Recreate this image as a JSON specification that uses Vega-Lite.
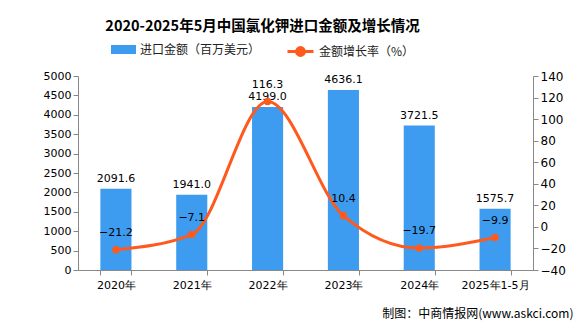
{
  "$schema": "https://vega.github.io/schema/vega-lite/v6.json",
  "width": 455,
  "height": 194,
  "autosize": {"type": "none"},
  "padding": {"left": 78, "top": 76, "right": 43, "bottom": 57},
  "background": "white",
  "title": {
    "text": "2020-2025年5月中国氯化钾进口金额及增长情况",
    "font": "Noto Sans CJK SC",
    "fontSize": 14.5,
    "fontWeight": "bold",
    "color": "#000000",
    "anchor": "middle",
    "dx": -43,
    "offset": 3
  },
  "config": {
    "view": {"stroke": null},
    "axis": {
      "grid": false,
      "domainColor": "#888888",
      "tickColor": "#888888",
      "tickSize": 5,
      "labelColor": "#000000",
      "labelFont": "DejaVu Sans",
      "labelFontSize": 11
    },
    "legend": {
      "labelFont": "Noto Sans CJK SC",
      "labelFontSize": 12,
      "labelColor": "#222222",
      "title": null
    },
    "text": {"font": "DejaVu Sans", "fontSize": 11, "color": "#000000"}
  },
  "data": {
    "values": [
      {"year": "2020年", "amount": 2091.6, "growth": -21.2},
      {"year": "2021年", "amount": 1941.0, "growth": -7.1},
      {"year": "2022年", "amount": 4199.0, "growth": 116.3},
      {"year": "2023年", "amount": 4636.1, "growth": 10.4},
      {"year": "2024年", "amount": 3721.5, "growth": -19.7},
      {"year": "2025年1-5月", "amount": 1575.7, "growth": -9.9}
    ]
  },
  "encoding": {
    "x": {
      "field": "year",
      "type": "nominal",
      "sort": null,
      "scale": {"paddingInner": 0.59, "paddingOuter": 0.295},
      "axis": {
        "labelAngle": 0,
        "tickBand": "extent",
        "labelPadding": 4,
        "title": "制图：中商情报网(www.askci.com)",
        "titleFont": "Noto Sans CJK SC",
        "titleFontSize": 12,
        "titleFontWeight": "normal",
        "titleColor": "#000000",
        "titleAnchor": "end",
        "titleAlign": "right",
        "titleBaseline": "middle",
        "titleX": 495,
        "titleY": 43
      }
    }
  },
  "layer": [
    {
      "encoding": {
        "y": {
          "field": "amount",
          "type": "quantitative",
          "scale": {"domain": [0, 5000], "nice": false},
          "axis": {"orient": "left", "values": [0, 500, 1000, 1500, 2000, 2500, 3000, 3500, 4000, 4500, 5000], "format": "d", "title": null}
        }
      },
      "layer": [
        {
          "mark": {"type": "bar"},
          "encoding": {
            "fill": {
              "datum": "进口金额（百万美元）",
              "scale": {"range": ["#3d9cf0"]},
              "legend": {
                "orient": "none",
                "legendX": 33,
                "legendY": -39,
                "symbolType": "M-1,-0.36H1V0.36H-1Z",
                "symbolSize": 625,
                "symbolStrokeWidth": 0
              }
            }
          }
        },
        {
          "mark": {"type": "text", "baseline": "bottom", "dy": -5},
          "encoding": {"text": {"field": "amount", "type": "quantitative", "format": ".1f"}}
        }
      ]
    },
    {
      "encoding": {
        "y": {
          "field": "growth",
          "type": "quantitative",
          "scale": {"domain": [-40, 140], "nice": false, "zero": false},
          "axis": {"orient": "right", "values": [-40, -20, 0, 20, 40, 60, 80, 100, 120, 140], "format": "d", "title": null, "labelFontSize": 12}
        }
      },
      "layer": [
        {
          "mark": {"type": "line", "interpolate": "monotone", "strokeWidth": 3},
          "encoding": {
            "stroke": {
              "datum": "金额增长率（%）",
              "scale": {"range": ["#ff5a1e"]},
              "legend": {
                "orient": "none",
                "legendX": 208,
                "legendY": -39,
                "symbolType": "M-1,0H1M0.3,0A0.3,0.3 0 1,1 -0.3,0A0.3,0.3 0 1,1 0.3,0",
                "symbolSize": 676,
                "symbolStrokeWidth": 3,
                "symbolFillColor": "#ff5a1e"
              }
            }
          }
        },
        {
          "mark": {"type": "point", "filled": true, "size": 55, "color": "#ff5a1e", "opacity": 1},
          "encoding": {}
        },
        {
          "mark": {"type": "text", "baseline": "bottom", "dy": -12},
          "encoding": {"text": {"field": "growth", "type": "quantitative", "format": ".1f"}}
        }
      ]
    }
  ],
  "resolve": {"scale": {"y": "independent", "fill": "independent", "stroke": "independent"}}
}
